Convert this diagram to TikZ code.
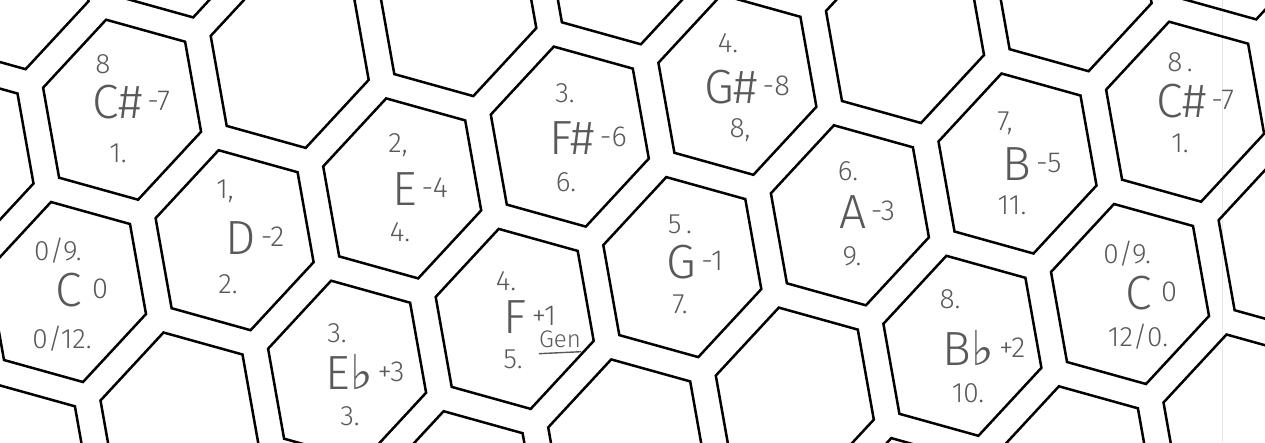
\documentclass[tikz,border=0pt]{standalone}
\usepackage{fontspec}
\setmainfont{Fira Sans}[UprightFont=* Light]
\newfontfamily\symfont{DejaVu Sans}
\usetikzlibrary{calc}

% note letter with its small offset number
\newcommand{\pitch}[2]{{\fontsize{48}{48}\selectfont #1}\raisebox{8pt}{\fontsize{29}{29}\selectfont\,#2}}
\newcommand{\flt}{{\symfont\char"266D}}

\tikzset{
  cell/.style={draw=black, line width=2.5pt, line join=miter},
  numlbl/.style={text=gray!70!black, inner sep=0pt, font=\fontsize{28}{28}\selectfont},
  notelbl/.style={text=gray!70!black, inner sep=0pt}
}

\begin{document}
\begin{tikzpicture}[x=1pt,y=-1pt]
  \useasboundingbox (0,0) rectangle (1265,442);
  \clip (0,0) rectangle (1265,442);
  \fill[white] (0,0) rectangle (1265,442);
  \draw[gray!18, line width=.6pt] (1222,0) -- (1222,442);

  % hex cells: centre = C + i*a + j*b
  \foreach \i/\j in {1/-2,2/-2, 0/-1,1/-1,2/-1,3/-1,4/-1,
                     0/0,1/0,2/0,3/0,4/0,5/0,6/0,7/0,
                     -1/1,0/1,1/1,2/1,3/1,4/1,5/1,6/1,
                     1/2,2/2,3/2,4/2,5/2,6/2, 3/3,4/3,5/3} {
    \draw[cell, shift={({67+167.6*\i+112.5*\j},{292-51.8*\i+130.5*\j})}]
      (-16,-90) -- (63,-68) -- (79,22) -- (16,90) -- (-63,68) -- (-79,-22) -- cycle;
  }

  % C# (left)
  \node[numlbl]  (csat) at (103,64)  {8};
  \node[notelbl] (csam) at (131,102) {\pitch{C\#}{-7}};
  \node[numlbl]  (csab) at (118,153) {1.};
  % C (left)
  \node[numlbl]  (cat) at (58,251)  {0/9.};
  \node[notelbl] (cam) at (82,290)  {\pitch{C}{\,0}};
  \node[numlbl]  (cab) at (62,339)  {0/12.};
  % D
  \node[numlbl]  (dt) at (225,191) {1,};
  \node[notelbl] (dm) at (255,238) {\pitch{D}{-2}};
  \node[numlbl]  (db) at (228,284) {2.};
  % E
  \node[numlbl]  (et) at (398,145) {2,};
  \node[notelbl] (em) at (420,189) {\pitch{E}{-4}};
  \node[numlbl]  (eb) at (400,232) {4.};
  % Eb
  \node[numlbl]  (ebt) at (337,333) {3.};
  \node[notelbl] (ebm) at (365,372) {\pitch{E\flt}{+3}};
  \node[numlbl]  (ebb) at (350,416) {3.};
  % F#
  \node[numlbl]  (fst) at (565,93)  {3.};
  \node[notelbl] (fsm) at (588,138) {\pitch{F\#}{-6}};
  \node[numlbl]  (fsb) at (566,182) {6.};
  % G#
  \node[numlbl]  (gst) at (728,43)  {4.};
  \node[notelbl] (gsm) at (747,87)  {\pitch{G\#}{-8}};
  \node[numlbl]  (gsb) at (740,130) {8,};
  % F
  \node[numlbl]  (ft) at (506,281) {4.};
  \node[notelbl] (fm) at (530,317) {\pitch{F}{+1}};
  \node[numlbl]  (fb) at (513,359) {5.};
  \node[numlbl, font=\fontsize{24}{24}\selectfont] (fgen) at (560,339) {Gen};
  \draw[gray!70!black, line width=1.4pt] ([yshift=-6pt]fgen.south west) -- ([yshift=-4pt]fgen.south east);
  % G
  \node[numlbl]  (gt) at (680,224) {5\,.};
  \node[notelbl] (gm) at (695,262) {\pitch{G}{-1}};
  \node[numlbl]  (gb) at (680,304) {7.};
  % A
  \node[numlbl]  (at) at (848,171) {6.};
  \node[notelbl] (am) at (867,212) {\pitch{A}{-3}};
  \node[numlbl]  (ab) at (852,256) {9.};
  % B
  \node[numlbl]  (bt) at (1005,123) {7,};
  \node[notelbl] (bm) at (1032,164) {\pitch{B}{-5}};
  \node[numlbl]  (bb) at (1012,205) {11.};
  % C# (right)
  \node[numlbl]  (csbt) at (1180,62)  {8\,.};
  \node[notelbl] (csbm) at (1195,101) {\pitch{C\#}{-7}};
  \node[numlbl]  (csbb) at (1180,143) {1.};
  % Bb
  \node[numlbl]  (bbt) at (950,299) {8.};
  \node[notelbl] (bbm) at (984,348) {\pitch{B\flt}{+2}};
  \node[numlbl]  (bbb) at (968,393) {10.};
  % C (right)
  \node[numlbl]  (cbt) at (1127,254) {0/9.};
  \node[notelbl] (cbm) at (1151,293) {\pitch{C}{\,0}};
  \node[numlbl]  (cbb) at (1138,337) {12/0.};
\end{tikzpicture}
\end{document}
